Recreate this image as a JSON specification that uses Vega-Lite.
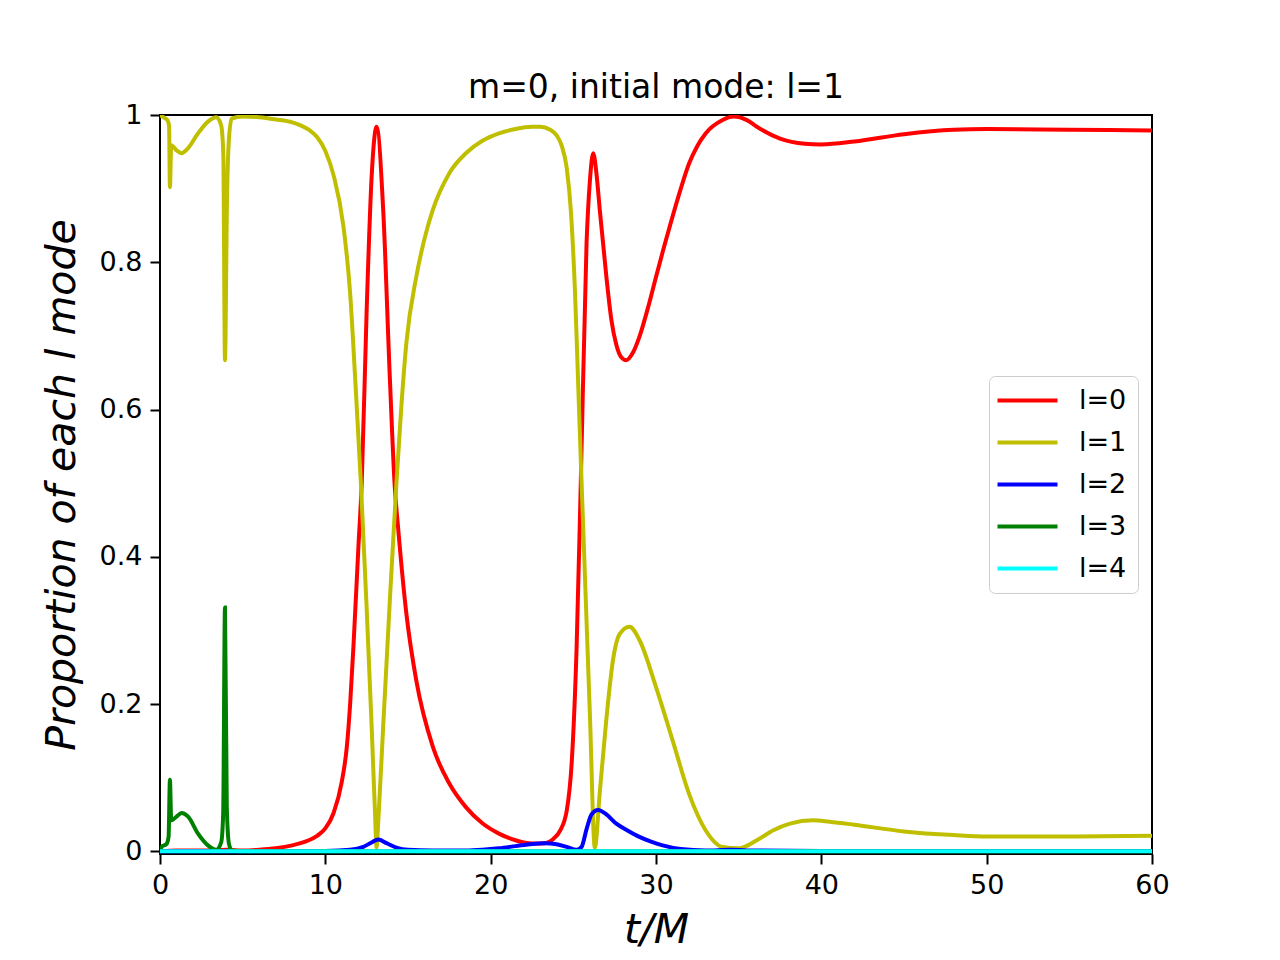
{
  "$schema": "https://vega.github.io/schema/vega-lite/v6.json",
  "description": "Proportion of each l mode over time, m=0, initial mode l=1",
  "width": 992,
  "height": 739,
  "autosize": "none",
  "padding": {"left": 160, "top": 115, "right": 128, "bottom": 106},
  "background": "white",
  "config": {
    "font": "DejaVu Sans",
    "view": {"stroke": "black", "strokeWidth": 2}
  },
  "title": {
    "text": "m=0, initial mode: l=1",
    "frame": "group",
    "fontSize": 33,
    "fontWeight": "normal",
    "font": "DejaVu Sans",
    "color": "black",
    "baseline": "alphabetic",
    "offset": -30
  },
  "data": {
    "values": [
      {"t": 0, "v": 0, "l": "l=0"}, {"t": 1, "v": 0.001, "l": "l=0"}, {"t": 3, "v": 0.001, "l": "l=0"},
      {"t": 4, "v": 0.002, "l": "l=0"}, {"t": 5, "v": 0.001, "l": "l=0"}, {"t": 6, "v": 0.002, "l": "l=0"},
      {"t": 7, "v": 0.004, "l": "l=0"}, {"t": 8, "v": 0.008, "l": "l=0"}, {"t": 8.5, "v": 0.011, "l": "l=0"},
      {"t": 9, "v": 0.015, "l": "l=0"}, {"t": 9.5, "v": 0.021, "l": "l=0"}, {"t": 10, "v": 0.031, "l": "l=0"},
      {"t": 10.5, "v": 0.052, "l": "l=0"}, {"t": 11, "v": 0.095, "l": "l=0"}, {"t": 11.3, "v": 0.142, "l": "l=0"},
      {"t": 11.5, "v": 0.2, "l": "l=0"}, {"t": 11.7, "v": 0.278, "l": "l=0"}, {"t": 12.0, "v": 0.413, "l": "l=0"},
      {"t": 12.2, "v": 0.5, "l": "l=0"}, {"t": 12.5, "v": 0.735, "l": "l=0"}, {"t": 12.8, "v": 0.916, "l": "l=0"},
      {"t": 13.1, "v": 0.984, "l": "l=0"}, {"t": 13.5, "v": 0.871, "l": "l=0"}, {"t": 13.9, "v": 0.644, "l": "l=0"},
      {"t": 14.2, "v": 0.495, "l": "l=0"}, {"t": 14.4, "v": 0.44, "l": "l=0"}, {"t": 14.9, "v": 0.323, "l": "l=0"},
      {"t": 15.5, "v": 0.232, "l": "l=0"}, {"t": 16.5, "v": 0.142, "l": "l=0"}, {"t": 17.5, "v": 0.092, "l": "l=0"},
      {"t": 18.5, "v": 0.06, "l": "l=0"}, {"t": 19.5, "v": 0.038, "l": "l=0"}, {"t": 20.5, "v": 0.024, "l": "l=0"},
      {"t": 21.5, "v": 0.015, "l": "l=0"}, {"t": 22.5, "v": 0.0105, "l": "l=0"}, {"t": 23.3, "v": 0.011, "l": "l=0"},
      {"t": 23.8, "v": 0.017, "l": "l=0"}, {"t": 24.2, "v": 0.028, "l": "l=0"}, {"t": 24.6, "v": 0.055, "l": "l=0"},
      {"t": 24.9, "v": 0.12, "l": "l=0"}, {"t": 25.2, "v": 0.278, "l": "l=0"}, {"t": 25.45, "v": 0.5, "l": "l=0"},
      {"t": 25.8, "v": 0.826, "l": "l=0"}, {"t": 26.0, "v": 0.91, "l": "l=0"}, {"t": 26.2, "v": 0.948, "l": "l=0"},
      {"t": 26.4, "v": 0.92, "l": "l=0"}, {"t": 26.6, "v": 0.871, "l": "l=0"}, {"t": 27.0, "v": 0.78, "l": "l=0"},
      {"t": 27.3, "v": 0.722, "l": "l=0"}, {"t": 27.6, "v": 0.688, "l": "l=0"}, {"t": 27.9, "v": 0.671, "l": "l=0"},
      {"t": 28.2, "v": 0.667, "l": "l=0"}, {"t": 28.6, "v": 0.677, "l": "l=0"}, {"t": 29.0, "v": 0.699, "l": "l=0"},
      {"t": 29.5, "v": 0.737, "l": "l=0"}, {"t": 30.0, "v": 0.78, "l": "l=0"}, {"t": 30.5, "v": 0.822, "l": "l=0"},
      {"t": 31.0, "v": 0.862, "l": "l=0"}, {"t": 31.5, "v": 0.9, "l": "l=0"}, {"t": 32.0, "v": 0.934, "l": "l=0"},
      {"t": 32.5, "v": 0.958, "l": "l=0"}, {"t": 33.0, "v": 0.975, "l": "l=0"}, {"t": 34.0, "v": 0.993, "l": "l=0"},
      {"t": 34.7, "v": 0.998, "l": "l=0"}, {"t": 35.5, "v": 0.993, "l": "l=0"}, {"t": 36.1, "v": 0.984, "l": "l=0"},
      {"t": 37.5, "v": 0.968, "l": "l=0"}, {"t": 39.0, "v": 0.961, "l": "l=0"}, {"t": 40, "v": 0.96, "l": "l=0"},
      {"t": 42, "v": 0.964, "l": "l=0"}, {"t": 45, "v": 0.974, "l": "l=0"}, {"t": 48, "v": 0.98, "l": "l=0"},
      {"t": 50, "v": 0.981, "l": "l=0"}, {"t": 55, "v": 0.98, "l": "l=0"}, {"t": 60, "v": 0.979, "l": "l=0"},

      {"t": 0, "v": 1.0, "l": "l=1"}, {"t": 0.2, "v": 0.997, "l": "l=1"}, {"t": 0.45, "v": 0.993, "l": "l=1"},
      {"t": 0.55, "v": 0.985, "l": "l=1"}, {"t": 0.6, "v": 0.902, "l": "l=1"}, {"t": 0.68, "v": 0.959, "l": "l=1"},
      {"t": 1.0, "v": 0.952, "l": "l=1"}, {"t": 1.3, "v": 0.948, "l": "l=1"}, {"t": 1.7, "v": 0.955, "l": "l=1"},
      {"t": 2.3, "v": 0.975, "l": "l=1"}, {"t": 2.9, "v": 0.991, "l": "l=1"}, {"t": 3.4, "v": 0.997, "l": "l=1"},
      {"t": 3.7, "v": 0.986, "l": "l=1"}, {"t": 3.83, "v": 0.946, "l": "l=1"}, {"t": 3.93, "v": 0.667, "l": "l=1"},
      {"t": 4.05, "v": 0.88, "l": "l=1"}, {"t": 4.15, "v": 0.96, "l": "l=1"}, {"t": 4.33, "v": 0.995, "l": "l=1"},
      {"t": 5, "v": 0.998, "l": "l=1"}, {"t": 6, "v": 0.997, "l": "l=1"}, {"t": 7, "v": 0.994, "l": "l=1"},
      {"t": 8, "v": 0.99, "l": "l=1"}, {"t": 8.5, "v": 0.986, "l": "l=1"}, {"t": 9.0, "v": 0.98, "l": "l=1"},
      {"t": 9.5, "v": 0.97, "l": "l=1"}, {"t": 10.0, "v": 0.951, "l": "l=1"}, {"t": 10.5, "v": 0.918, "l": "l=1"},
      {"t": 11.1, "v": 0.848, "l": "l=1"}, {"t": 11.5, "v": 0.758, "l": "l=1"},
      {"t": 11.8, "v": 0.644, "l": "l=1"}, {"t": 12.15, "v": 0.5, "l": "l=1"}, {"t": 12.5, "v": 0.33, "l": "l=1"},
      {"t": 12.8, "v": 0.17, "l": "l=1"}, {"t": 13.0, "v": 0.055, "l": "l=1"}, {"t": 13.1, "v": 0.005, "l": "l=1"},
      {"t": 13.2, "v": 0.04, "l": "l=1"}, {"t": 13.5, "v": 0.17, "l": "l=1"}, {"t": 13.9, "v": 0.34, "l": "l=1"},
      {"t": 14.3, "v": 0.5, "l": "l=1"}, {"t": 14.6, "v": 0.605, "l": "l=1"}, {"t": 14.9, "v": 0.69, "l": "l=1"},
      {"t": 15.5, "v": 0.78, "l": "l=1"}, {"t": 16.0, "v": 0.832, "l": "l=1"},
      {"t": 16.5, "v": 0.871, "l": "l=1"}, {"t": 17.5, "v": 0.921, "l": "l=1"}, {"t": 18.5, "v": 0.948, "l": "l=1"},
      {"t": 19.5, "v": 0.965, "l": "l=1"}, {"t": 20.5, "v": 0.975, "l": "l=1"}, {"t": 21.5, "v": 0.981, "l": "l=1"},
      {"t": 22.5, "v": 0.984, "l": "l=1"}, {"t": 23.0, "v": 0.984, "l": "l=1"}, {"t": 23.6, "v": 0.98, "l": "l=1"},
      {"t": 24.0, "v": 0.972, "l": "l=1"}, {"t": 24.3, "v": 0.958, "l": "l=1"}, {"t": 24.6, "v": 0.928, "l": "l=1"},
      {"t": 24.85, "v": 0.87, "l": "l=1"}, {"t": 25.1, "v": 0.76, "l": "l=1"}, {"t": 25.3, "v": 0.63, "l": "l=1"},
      {"t": 25.5, "v": 0.5, "l": "l=1"},
      {"t": 26.0, "v": 0.187, "l": "l=1"}, {"t": 26.3, "v": 0.005, "l": "l=1"}, {"t": 26.6, "v": 0.08, "l": "l=1"},
      {"t": 27.0, "v": 0.18, "l": "l=1"}, {"t": 27.4, "v": 0.26, "l": "l=1"}, {"t": 27.8, "v": 0.295, "l": "l=1"},
      {"t": 28.4, "v": 0.305, "l": "l=1"}, {"t": 29.0, "v": 0.287, "l": "l=1"}, {"t": 30.0, "v": 0.223, "l": "l=1"},
      {"t": 31.0, "v": 0.151, "l": "l=1"}, {"t": 32.0, "v": 0.078, "l": "l=1"}, {"t": 33.0, "v": 0.0285, "l": "l=1"},
      {"t": 34.0, "v": 0.006, "l": "l=1"}, {"t": 35.0, "v": 0.004, "l": "l=1"}, {"t": 36.1, "v": 0.015, "l": "l=1"},
      {"t": 37.1, "v": 0.0285, "l": "l=1"}, {"t": 38.1, "v": 0.0375, "l": "l=1"}, {"t": 39.5, "v": 0.042, "l": "l=1"},
      {"t": 40.5, "v": 0.04, "l": "l=1"}, {"t": 42, "v": 0.036, "l": "l=1"}, {"t": 45, "v": 0.027, "l": "l=1"},
      {"t": 48, "v": 0.022, "l": "l=1"}, {"t": 50, "v": 0.02, "l": "l=1"}, {"t": 55, "v": 0.02, "l": "l=1"},
      {"t": 60, "v": 0.021, "l": "l=1"},

      {"t": 0, "v": 0, "l": "l=2"}, {"t": 5, "v": 0, "l": "l=2"}, {"t": 10, "v": 0.0005, "l": "l=2"},
      {"t": 11.5, "v": 0.002, "l": "l=2"}, {"t": 12.3, "v": 0.006, "l": "l=2"}, {"t": 12.8, "v": 0.012, "l": "l=2"},
      {"t": 13.2, "v": 0.016, "l": "l=2"}, {"t": 13.7, "v": 0.011, "l": "l=2"}, {"t": 14.3, "v": 0.005, "l": "l=2"},
      {"t": 15, "v": 0.002, "l": "l=2"}, {"t": 16.5, "v": 0.001, "l": "l=2"}, {"t": 18.5, "v": 0.001, "l": "l=2"},
      {"t": 19.5, "v": 0.002, "l": "l=2"}, {"t": 20.5, "v": 0.004, "l": "l=2"}, {"t": 21.5, "v": 0.007, "l": "l=2"},
      {"t": 22.5, "v": 0.01, "l": "l=2"}, {"t": 23.3, "v": 0.011, "l": "l=2"}, {"t": 23.9, "v": 0.01, "l": "l=2"},
      {"t": 24.6, "v": 0.006, "l": "l=2"}, {"t": 25.2, "v": 0.002, "l": "l=2"}, {"t": 25.5, "v": 0.006, "l": "l=2"},
      {"t": 25.8, "v": 0.03, "l": "l=2"}, {"t": 26.1, "v": 0.05, "l": "l=2"}, {"t": 26.5, "v": 0.056, "l": "l=2"},
      {"t": 27.0, "v": 0.05, "l": "l=2"}, {"t": 27.6, "v": 0.0375, "l": "l=2"}, {"t": 28.3, "v": 0.028, "l": "l=2"},
      {"t": 29.0, "v": 0.0195, "l": "l=2"}, {"t": 29.7, "v": 0.013, "l": "l=2"}, {"t": 30.4, "v": 0.008, "l": "l=2"},
      {"t": 31.5, "v": 0.003, "l": "l=2"}, {"t": 33, "v": 0.001, "l": "l=2"}, {"t": 34.5, "v": 0.002, "l": "l=2"},
      {"t": 36, "v": 0.001, "l": "l=2"}, {"t": 40, "v": 0.0005, "l": "l=2"}, {"t": 60, "v": 0.0005, "l": "l=2"},

      {"t": 0, "v": 0, "l": "l=3"}, {"t": 0.1, "v": 0.006, "l": "l=3"}, {"t": 0.4, "v": 0.01, "l": "l=3"},
      {"t": 0.52, "v": 0.02, "l": "l=3"}, {"t": 0.6, "v": 0.097, "l": "l=3"}, {"t": 0.68, "v": 0.042, "l": "l=3"},
      {"t": 1.0, "v": 0.047, "l": "l=3"}, {"t": 1.3, "v": 0.052, "l": "l=3"}, {"t": 1.7, "v": 0.047, "l": "l=3"},
      {"t": 2.3, "v": 0.024, "l": "l=3"}, {"t": 2.9, "v": 0.008, "l": "l=3"}, {"t": 3.4, "v": 0.002, "l": "l=3"},
      {"t": 3.7, "v": 0.012, "l": "l=3"}, {"t": 3.82, "v": 0.05, "l": "l=3"}, {"t": 3.93, "v": 0.331, "l": "l=3"},
      {"t": 4.04, "v": 0.06, "l": "l=3"}, {"t": 4.17, "v": 0.01, "l": "l=3"}, {"t": 4.35, "v": 0.001, "l": "l=3"},
      {"t": 5, "v": 0, "l": "l=3"}, {"t": 60, "v": 0, "l": "l=3"},

      {"t": 0, "v": 0, "l": "l=4"}, {"t": 60, "v": 0, "l": "l=4"}
    ]
  },
  "mark": {"type": "line", "strokeWidth": 4, "interpolate": "monotone", "clip": true},
  "encoding": {
    "x": {
      "field": "t",
      "type": "quantitative",
      "title": "t/M",
      "scale": {"domain": [0, 60], "nice": false, "zero": false},
      "axis": {
        "values": [0, 10, 20, 30, 40, 50, 60],
        "format": "d",
        "grid": false,
        "domain": false,
        "labelFlush": false,
        "labelOverlap": false,
        "tickSize": 10,
        "tickWidth": 2,
        "tickColor": "black",
        "labelFontSize": 27,
        "labelColor": "black",
        "labelPadding": 8,
        "titleFontSize": 41,
        "titleFontStyle": "italic",
        "titleFontWeight": "normal",
        "titleColor": "black",
        "titlePadding": 12
      }
    },
    "y": {
      "field": "v",
      "type": "quantitative",
      "title": "Proportion of each l mode",
      "scale": {"domain": [-0.0037, 1], "nice": false, "zero": false},
      "axis": {
        "values": [0, 0.2, 0.4, 0.6, 0.8, 1],
        "format": "~g",
        "grid": false,
        "domain": false,
        "labelFlush": false,
        "labelOverlap": false,
        "tickSize": 10,
        "tickWidth": 2,
        "tickColor": "black",
        "labelFontSize": 27,
        "labelColor": "black",
        "labelPadding": 8,
        "titleFontSize": 41,
        "titleFontStyle": "italic",
        "titleFontWeight": "normal",
        "titleColor": "black",
        "titlePadding": 16
      }
    },
    "color": {
      "field": "l",
      "type": "nominal",
      "scale": {
        "domain": ["l=0", "l=1", "l=2", "l=3", "l=4"],
        "range": ["#ff0000", "#bfbf00", "#0000ff", "#008000", "#00ffff"]
      },
      "legend": {
        "orient": "none",
        "legendX": 829,
        "legendY": 261,
        "title": null,
        "symbolType": "M-3,0H3",
        "symbolSize": 400,
        "symbolStrokeWidth": 4,
        "symbolOffset": 14,
        "labelFontSize": 27,
        "labelColor": "black",
        "labelOffset": 38,
        "rowPadding": 14,
        "padding": 11,
        "fillColor": "white",
        "strokeColor": "#cccccc",
        "cornerRadius": 6
      }
    }
  }
}
